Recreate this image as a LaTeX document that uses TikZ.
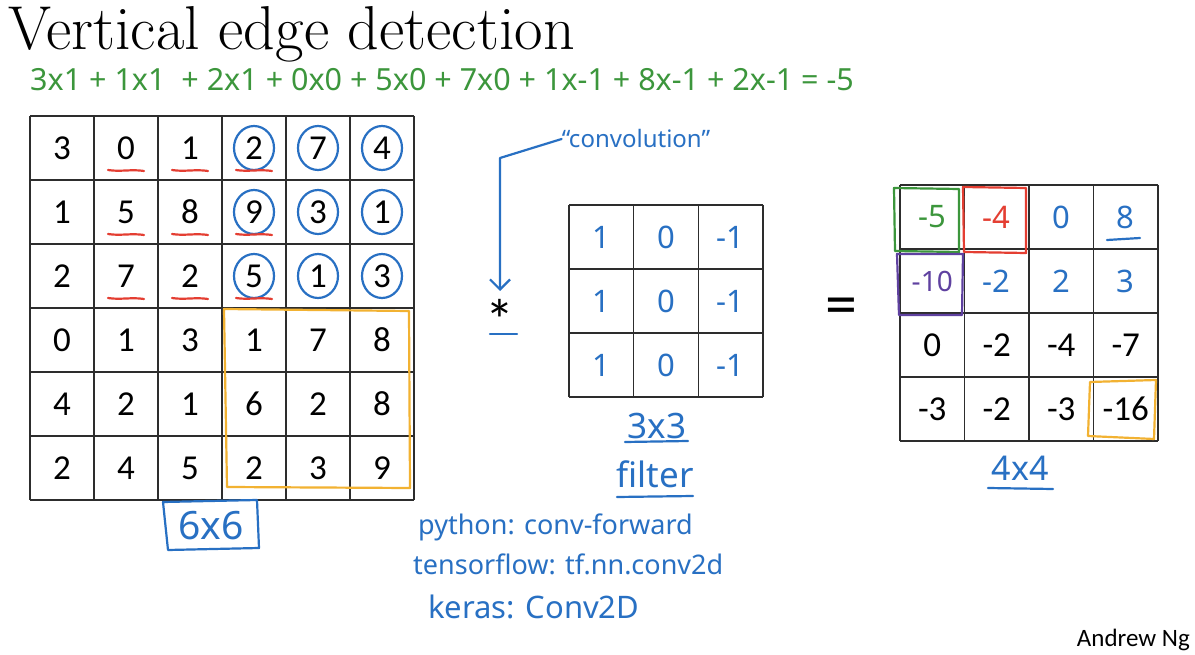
\documentclass[tikz,border=0pt]{standalone}
\usepackage{fontspec}
\newfontfamily\calfont{Carlito}
\newfontfamily\handfont{Noto Sans}
\usetikzlibrary{arrows.meta}
\definecolor{penblue}{RGB}{40,112,195}
\definecolor{pengreen}{RGB}{60,150,60}
\definecolor{penred}{RGB}{228,62,50}
\definecolor{penpurple}{RGB}{95,65,160}
\definecolor{penorange}{RGB}{242,178,50}
\definecolor{gridgray}{RGB}{45,45,45}
\tikzset{
  gridline/.style={draw=gridgray, line width=1.4pt},
  numcell/.style={font=\calfont\fontsize{35}{35}\selectfont, text=black, inner sep=0pt},
  handnum/.style={font=\handfont\fontsize{31}{31}\selectfont, inner sep=0pt},
  handtext/.style={font=\handfont\fontsize{27}{29}\selectfont, text=penblue, inner sep=0pt},
  pen/.style={draw=#1, line width=2.2pt, line cap=round, line join=round},
}
\begin{document}
\begin{tikzpicture}[x=1pt,y=-1pt]
\useasboundingbox[fill=white] (0,0) rectangle (1195,655);

% title
\node[anchor=base west, inner sep=0pt, font=\fontsize{62}{66}\selectfont] (title) at (8,50) {Vertical edge detection};

% equation
\node[anchor=west, inner sep=0pt, text=pengreen, font=\handfont\fontsize{30.5}{32}\selectfont] (eq) at (30,80)
  {3x1 + 1x1 \ + 2x1 + 0x0 + 5x0 + 7x0 + 1x-1 + 8x-1 + 2x-1 = -5};

% ---------- left 6x6 grid ----------
\foreach \i in {0,...,6} {
  \draw[gridline] ({30+64*\i},116) -- ({30+64*\i},500);
  \draw[gridline] (30,{116+64*\i}) -- (414,{116+64*\i});
}
\foreach \row [count=\r] in {{3,0,1,2,7,4},{1,5,8,9,3,1},{2,7,2,5,1,3},{0,1,3,1,7,8},{4,2,1,6,2,8},{2,4,5,2,3,9}} {
  \foreach \v [count=\c] in \row {
    \node[numcell] (A-\r-\c) at ({30+64*(\c-0.5)},{116+64*(\r-0.5)}) {\v};
  }
}
% blue circles
\foreach \r in {1,2,3} \foreach \c in {4,5,6} {
  \draw[pen=penblue] (A-\r-\c.center) ellipse (20 and 22);
}
% red underlines
\foreach \r in {1,2,3} \foreach \c in {2,3,4} {
  \draw[pen=penred] ([xshift=-18pt,yshift=-22pt]A-\r-\c.center) .. controls ++(12,2) and ++(-12,-2) .. ++(36,1);
}
% orange box
\draw[pen=penorange] (224,309) -- (409,311) -- (410,488) -- (227,487) -- cycle;

% 6x6 label
\node[handtext, font=\handfont\fontsize{39}{39}\selectfont] (six) at (211,526) {6x6};
\draw[pen=penblue] (163,502) -- (257,500) -- (259,548) -- (168,550) -- cycle;

% ---------- convolution star and arrow ----------
\node[anchor=north, inner sep=0pt, font=\calfont\fontsize{58}{58}\selectfont] (star) at (500,299) {*};
\draw[pen=penblue] (490,334) -- (517,334);
\node[handtext, font=\handfont\fontsize{24}{26}\selectfont] (conv) at (636,139) {“convolution”};
\coordinate (bend) at (500,158);
\draw[pen=penblue, -{Straight Barb[length=10pt,width=20pt]}] (conv.west) -- (bend) -- ([yshift=8pt]star.north);

% ---------- filter 3x3 ----------
\foreach \i in {0,...,3} {
  \draw[gridline] ({569+64.67*\i},205) -- ({569+64.67*\i},397);
  \draw[gridline] (569,{205+64*\i}) -- (763,{205+64*\i});
}
\foreach \r in {1,2,3} {
  \node[handnum, text=penblue] (F-\r-1) at ({569+64.67*0.5},{205+64*(\r-0.5)}) {1};
  \node[handnum, text=penblue] (F-\r-2) at ({569+64.67*1.5},{205+64*(\r-0.5)}) {0};
  \node[handnum, text=penblue] (F-\r-3) at ({569+64.67*2.5},{205+64*(\r-0.5)}) {-1};
}
\node[handtext, font=\handfont\fontsize{35}{36}\selectfont] (fsize) at (657,426) {3x3};
\draw[pen=penblue] (625,442) -- (688,441);
\node[handtext, font=\handfont\fontsize{35}{36}\selectfont] (flabel) at (655,474) {filter};
\draw[pen=penblue] (617,497) -- (693,496);

% framework names
\node[handtext, anchor=west] (py) at (418,527) {python: conv-forward};
\node[handtext, anchor=west] (tf) at (413,564) {tensorflow: tf.nn.conv2d};
\node[handtext, anchor=west, font=\handfont\fontsize{31}{32}\selectfont] (ks) at (428,607) {keras: Conv2D};

% equals
\node[inner sep=0pt, font=\calfont\fontsize{64}{64}\selectfont] (eqs) at (841,312) {=};

% ---------- result 4x4 ----------
\foreach \i in {0,...,4} {
  \draw[gridline] ({900+64.5*\i},185) -- ({900+64.5*\i},441);
  \draw[gridline] (900,{185+64*\i}) -- (1158,{185+64*\i});
}
\node[handnum, text=pengreen] (R-1-1) at ({900+64.5*0.5},{185+64*0.5}) {-5};
\node[handnum, text=penred] (R-1-2) at ({900+64.5*1.5},{185+64*0.5}) {-4};
\node[handnum, text=penblue] (R-1-3) at ({900+64.5*2.5},{185+64*0.5}) {0};
\node[handnum, text=penblue] (R-1-4) at ({900+64.5*3.5},{185+64*0.5}) {8};
\node[handnum, text=penpurple, font=\handfont\fontsize{28}{28}\selectfont] (R-2-1) at ({900+64.5*0.5},{185+64*1.5}) {-10};
\node[handnum, text=penblue] (R-2-2) at ({900+64.5*1.5},{185+64*1.5}) {-2};
\node[handnum, text=penblue] (R-2-3) at ({900+64.5*2.5},{185+64*1.5}) {2};
\node[handnum, text=penblue] (R-2-4) at ({900+64.5*3.5},{185+64*1.5}) {3};
\foreach \row [count=\r from 3] in {{0,-2,-4,-7},{-3,-2,-3,-16}} {
  \foreach \v [count=\c] in \row {
    \node[numcell] (R-\r-\c) at ({900+64.5*(\c-0.5)},{185+64*(\r-0.5)}) {\v};
  }
}
\draw[pen=penblue] (1107,240) -- (1140,238);
% highlight boxes
\draw[pen=pengreen] (894,188) -- (959,189) -- (959,252) -- (895,251) -- cycle;
\draw[pen=penred] (963,187) -- (1026,188) -- (1026,253) -- (964,252) -- cycle;
\draw[pen=penpurple] (897,254) -- (963,254) -- (962,315) -- (899,315) -- cycle;
\draw[pen=penorange] (1090,382) -- (1156,380) -- (1154,439) -- (1088,436) -- cycle;
\node[handtext, font=\handfont\fontsize{34}{35}\selectfont] (rsize) at (1020,468) {4x4};
\draw[pen=penblue] (988,488) -- (1053,489);

% author
\node[anchor=base east, inner sep=0pt, font=\calfont\fontsize{25}{25}\selectfont] (author) at (1190,646) {Andrew Ng};
\end{tikzpicture}
\end{document}
